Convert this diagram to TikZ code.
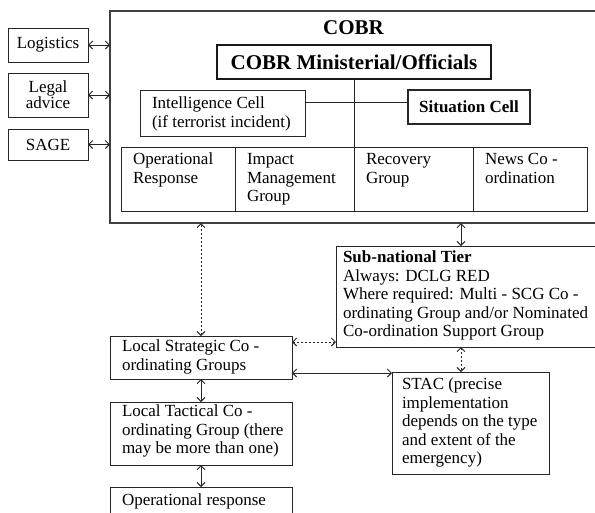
\documentclass[tikz,border=0pt]{standalone}
\usepackage{fontspec}
\setmainfont{Liberation Serif}
\usetikzlibrary{arrows.meta,calc}
\tikzset{
  box/.style={draw=black!85, line width=0.9pt, inner sep=0pt, outer sep=0pt, anchor=north west, align=center},
  txt/.style={inner sep=0pt, outer sep=0pt, anchor=north west, align=left},
  arr/.style={<->, >={Straight Barb[length=4pt,width=8pt]}, line width=0.9pt, draw=black!85},
  darr/.style={arr, dash pattern=on 2pt off 2pt},
  lnk/.style={line width=0.9pt, draw=black!85},
}
\newcommand{\bodyf}{\fontsize{17}{18.5}\selectfont}
\newcommand{\headf}{\fontsize{21}{24}\selectfont\bfseries}
\begin{document}
\begin{tikzpicture}[x=1pt,y=-1pt, font=\bodyf]
\useasboundingbox (0,0) rectangle (595,512);
% outer COBR box
\node[box, line width=1.2pt, draw=black!75, minimum width=500pt, minimum height=212pt] (cobr) at (110,11) {};
\node[inner sep=0pt, font=\headf] (cobrT) at (353.5,28) {COBR};
\node[box, line width=2pt, draw=black!90, minimum width=274pt, minimum height=34pt, font=\headf] (mini) at (217,45) {COBR Ministerial/Officials};
% intelligence and situation cells
\node[box, minimum width=165pt, minimum height=46pt] (intel) at (140,90) {};
\node[txt] (intelT) at (152,96) {\strut Intelligence Cell\\(if terrorist incident)};
\node[box, line width=1.4pt, minimum width=122pt, minimum height=34pt, font=\bodyf\bfseries] (sit) at (408,90) {Situation Cell};
% bottom row of COBR
\node[box, minimum width=114pt, minimum height=64pt] (c1) at (121,147) {};
\node[box, minimum width=119pt, minimum height=64pt] (c2) at (235,147) {};
\node[box, minimum width=119pt, minimum height=64pt] (c3) at (354,147) {};
\node[box, minimum width=114pt, minimum height=64pt] (c4) at (473,147) {};
\node[txt] (c1T) at (133,152) {\strut Operational\\Response};
\node[txt] (c2T) at (247,152) {\strut Impact\\Management\\Group};
\node[txt] (c3T) at (366,152) {\strut Recovery\\Group};
\node[txt] (c4T) at (485,152) {\strut News Co -\\ordination};
% internal connectors
\draw[lnk] (mini.south) -- (c3.north west);
\path (intel.north east) ++(0,12) coordinate (h1);
\draw[lnk] (h1) -- (h1 -| sit.west);
% side boxes
\node[box, minimum width=80pt, minimum height=34pt] (log) at (8,28) {Logistics};
\node[box, minimum width=80pt, minimum height=44pt, font=\fontsize{17}{16}\selectfont] (legal) at (8,73) {Legal\\advice};
\node[box, minimum width=80pt, minimum height=31pt] (sage) at (8,129) {SAGE};
\draw[arr] (log.east) -- (log.east -| cobr.west);
\draw[arr] (legal.east) -- (legal.east -| cobr.west);
\draw[arr] (sage.east) -- (sage.east -| cobr.west);
% sub-national tier
\node[box, minimum width=270pt, minimum height=101pt] (sub) at (336,246) {};
\node[txt] (subT) at (343,250) {\strut\textbf{Sub-national Tier}\\Always: DCLG RED\\Where required: Multi - SCG Co -\\ordinating Group and/or Nominated\\Co-ordination Support Group};
\path (sub.north west) ++(125,0) coordinate (s1);
\draw[arr] (s1) -- (s1 |- cobr.south);
% STAC
\node[box, minimum width=157pt, minimum height=102pt] (stac) at (392,372) {};
\node[txt] (stacT) at (402,377) {\strut STAC (precise\\implementation\\depends on the type\\and extent of the\\emergency)};
\path (sub.south west) ++(125,0) coordinate (s2);
\draw[darr] (s2) -- (s2 |- stac.north);
% local groups
\node[box, minimum width=182pt, minimum height=43pt] (lsg) at (110,336) {};
\node[txt] (lsgT) at (122,339) {\strut Local Strategic Co -\\ordinating Groups};
\node[box, minimum width=182pt, minimum height=63pt] (ltg) at (110,402) {};
\node[txt] (ltgT) at (122,404) {\strut Local Tactical Co -\\ordinating Group (there\\may be more than one)};
\node[box, minimum width=182pt, minimum height=40pt] (ops) at (110,487) {};
\node[txt] (opsT) at (122,493) {\strut Operational response};
\draw[darr] (lsg.north) -- (lsg.north |- cobr.south);
\path (lsg.north east) ++(0,6) coordinate (l1);
\draw[darr] (l1) -- (l1 -| sub.west);
\path (lsg.south east) ++(0,-6) coordinate (l2);
\draw[arr] (l2) -- (l2 -| stac.west);
\draw[arr] (lsg.south) -- (ltg.north);
\draw[arr] (ltg.south) -- (ops.north);
\end{tikzpicture}
\end{document}
